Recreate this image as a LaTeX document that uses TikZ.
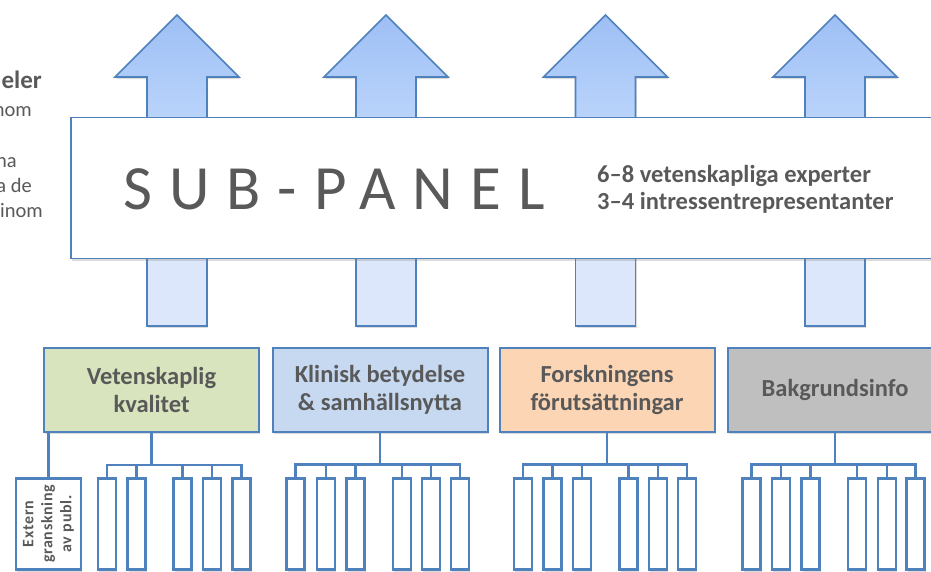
\documentclass[tikz,border=0pt]{standalone}
\usepackage{fontspec}
\setmainfont{Carlito}
\usetikzlibrary{shadows,calc}
\definecolor{bord}{HTML}{4F81BD}
\definecolor{txt}{HTML}{595959}
\definecolor{cgreen}{HTML}{D7E4BD}
\definecolor{cblue}{HTML}{C6D9F1}
\definecolor{cpeach}{HTML}{FCD5B5}
\definecolor{cgrey}{HTML}{BFBFBF}
\definecolor{arrtop}{HTML}{9EBFF5}
\definecolor{arrbot}{HTML}{BAD4FB}
\definecolor{shaftlow}{HTML}{DCE7FB}
\tikzset{
  shd/.style={drop shadow={opacity=0.28,shadow xshift=1.2pt,shadow yshift=-2.2pt}},
  bigarrow/.style={draw=bord, line width=1.6pt, line join=miter, top color=arrtop, bottom color=arrbot, shd},
  lowshaft/.style={draw=bord, line width=1.6pt, fill=shaftlow, shd},
  panel/.style={draw=bord, line width=1.6pt, fill=white, minimum width=889pt, minimum height=141pt, inner sep=0pt, shd},
  catbox/.style={draw=bord, line width=2pt, minimum width=215pt, minimum height=84pt, inner sep=0pt, align=center,
     text=txt, font=\bfseries\fontsize{24.5}{28}\selectfont, shd},
  leaf/.style={draw=bord, line width=2.4pt, fill=white, minimum width=18pt, minimum height=91pt, inner sep=0pt, shd},
  conn/.style={draw=bord, line width=2.6pt},
  frag/.style={inner sep=0pt, anchor=base east, text=txt},
}
\begin{document}
\begin{tikzpicture}[x=1pt,y=-1pt]
\useasboundingbox (0,0) rectangle (931,572);
\clip (0,0) rectangle (931,572);

% left cut-off text
\node[frag, font=\bfseries\fontsize{25}{28}\selectfont] (l1) at (42,89) {eler};
\node[frag, font=\fontsize{20.5}{25}\selectfont] (l2) at (32,117) {nom};
\node[frag, font=\fontsize{20.5}{25}\selectfont] (l3) at (17,168) {na};
\node[frag, font=\fontsize{20.5}{25}\selectfont] (l4) at (32,193) {a de};
\node[frag, font=\fontsize{20.5}{25}\selectfont] (l5) at (43,218) {inom};

% arrows
\foreach \cx in {177,386,605.5,835}{
  \path[bigarrow] (\cx,15) -- (\cx+62,77) -- (\cx+30,77) -- (\cx+30,120) -- (\cx-30,120) -- (\cx-30,77) -- (\cx-62,77) -- cycle;
  \path[lowshaft] (\cx-30,255) -- (\cx-30,326) -- (\cx+30,326) -- (\cx+30,255) -- cycle;
}

% sub-panel
\node[panel] (sp) at (515.5,188) {};
\node[anchor=west, inner sep=0pt, text=txt, font=\addfontfeature{LetterSpace=27}\fontsize{63}{70}\selectfont] (sptitle) at (123,189) {SUB-PANEL};
\node[anchor=west, inner sep=0pt, align=left, text=txt, font=\bfseries\fontsize{24.5}{27}\selectfont] (spinfo) at (597,189) {6–8 vetenskapliga experter\\3–4 intressentrepresentanter};

% category boxes
\node[catbox, fill=cgreen] (k1) at (151.5,389.5) {Vetenskaplig\\kvalitet};
\node[catbox, fill=cblue] (k2) at (380,389.5) {Klinisk betydelse\\\& samhällsnytta};
\node[catbox, fill=cpeach] (k3) at (607,389.5) {Forskningens\\förutsättningar};
\node[catbox, fill=cgrey] (k4) at (835,389.5) {Bakgrundsinfo};

% group 1
\node[leaf, rotate=90, minimum width=91pt, minimum height=65pt, align=center, text=txt,
  font=\bfseries\addfontfeature{LetterSpace=4}\fontsize{16}{19}\selectfont] (ext) at (48.5,524) {Extern\\granskning\\av publ.};
\draw[conn] (ext.east) -- (ext.east |- k1.south);
\coordinate (b1) at (151.5,465);
\foreach \x [count=\i] in {107,136.5,182.5,212,241.5}
  \node[leaf] (g1-\i) at (\x,524) {};
\draw[conn] (k1.south) -- (b1);
\draw[conn] (g1-1.north) |- (b1) -| (g1-5.north);
\foreach \i in {2,3,4} \draw[conn] (g1-\i.north) -- (g1-\i.north |- b1);

% groups 2-4
\foreach \g/\c/\xa/\xb/\xc/\xd/\xe/\xf in {
   2/380/295.5/326/355.5/402/431/460,
   3/607/523/552.5/582/628.5/658/687,
   4/835/751.5/781/810.5/857/887/915.5}{
  \coordinate (b\g) at (\c,464.5);
  \foreach \x [count=\i] in {\xa,\xb,\xc,\xd,\xe,\xf}
    \node[leaf] (g\g-\i) at (\x,524) {};
  \draw[conn] (k\g.south) -- (b\g);
  \draw[conn] (g\g-1.north) |- (b\g) -| (g\g-6.north);
  \foreach \i in {2,3,4,5} \draw[conn] (g\g-\i.north) -- (g\g-\i.north |- b\g);
}
\end{tikzpicture}
\end{document}
